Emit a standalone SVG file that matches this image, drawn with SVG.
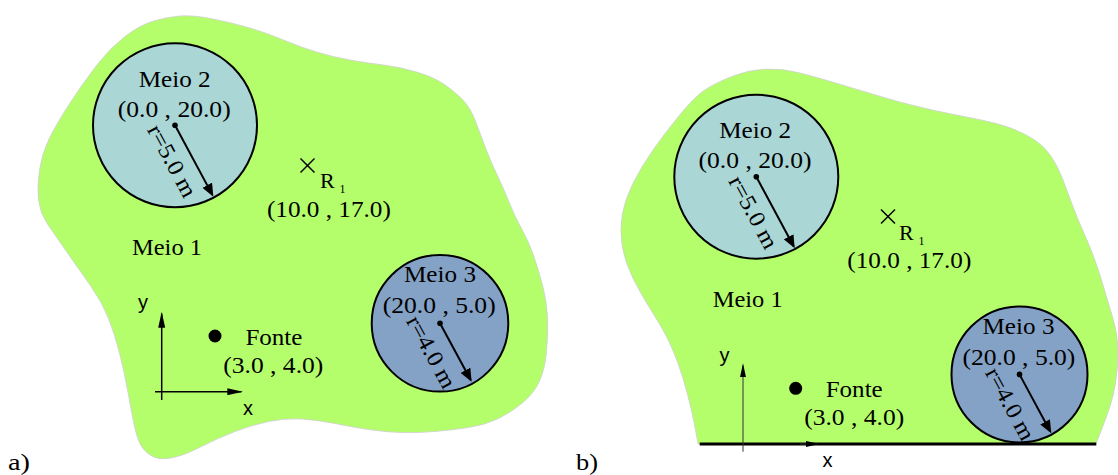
<svg xmlns="http://www.w3.org/2000/svg" width="1118" height="475" viewBox="0 0 1118 475">
<style>
.blob{fill:#b5fe6b;stroke:#cfcfcf;stroke-width:0.8}
.m2{fill:#aad6d5;stroke:#000;stroke-width:2}
.m3{fill:#84a2c5;stroke:#000;stroke-width:2}
.t{font-family:"Liberation Serif","Times New Roman",serif;font-size:23px;fill:#000}
.r{font-family:"Liberation Serif","Times New Roman",serif;font-size:22px;fill:#000}
.s{font-family:"Liberation Sans",Arial,sans-serif;font-size:20px;fill:#000}
.sub{font-family:"Liberation Serif","Times New Roman",serif;font-size:12px;fill:#000}
.rad{stroke:#000;stroke-width:2;fill:none;marker-end:url(#ah)}
.ax{stroke:#000;stroke-width:1.5;fill:none;marker-end:url(#axh)}
.axb{stroke:#333;stroke-width:1;fill:none;marker-end:url(#axh2)}
.cross{stroke:#000;stroke-width:1.5}
</style>
<defs>
<marker id="ah" markerUnits="userSpaceOnUse" markerWidth="13" markerHeight="11" refX="11" refY="5.5" orient="auto"><path d="M0,0 L13,5.5 L0,11 z" fill="#000"/></marker>
<marker id="axh" markerUnits="userSpaceOnUse" markerWidth="16" markerHeight="7" refX="14" refY="3.5" orient="auto"><path d="M0,0 L16,3.5 L0,7 z" fill="#000"/></marker>
<marker id="axh2" markerUnits="userSpaceOnUse" markerWidth="14" markerHeight="6" refX="12" refY="3" orient="auto"><path d="M0,0 L14,3 L0,6 z" fill="#000"/></marker>
</defs>

<g id="panel-a">
<path id="meio1-a" class="blob" d="M96.5,65.5 Q110,48 125,36.5 Q140,25 153.5,21 Q167,17 180,16 Q193,15 213,19 Q233,23 250,28 Q267,33 283.5,40 Q300,47 316.5,52 Q333,57 350,60 Q367,63 383.5,65 Q400,67 416.5,72 Q433,77 443,83.5 Q453,90 461.5,98.5 Q470,107 475,120 Q480,133 485,146.5 Q490,160 496.5,173.5 Q503,187 509,202 Q515,217 521.5,228.5 Q528,240 533,254 Q538,268 542.5,285 Q547,302 547.5,318.5 Q548,335 546.5,351.5 Q545,368 540,380 Q535,392 523.5,402 Q512,412 498.5,418.5 Q485,425 468.5,427.5 Q452,430 435,431.5 Q418,433 401.5,432.5 Q385,432 368.5,429.5 Q352,427 335,423.5 Q318,420 301.5,419 Q285,418 268.5,421.5 Q252,425 235,431.5 Q218,438 201.5,446.5 Q185,455 173.5,457.5 Q162,460 155,457.5 Q148,455 143,448.5 Q138,442 135,428.5 Q132,415 128.5,395 Q125,375 120,355 Q115,335 108.5,318.5 Q102,302 90,285 Q78,268 66.5,251.5 Q55,235 47.5,224 Q40,213 38.5,200 Q37,187 39.5,170 Q42,153 49.5,138 Q57,123 70,103 Q83,83 96.5,65.5 Z"/>
<text class="t" x="167" y="255" text-anchor="middle" textLength="70" lengthAdjust="spacingAndGlyphs">Meio 1</text>
</g>

<g id="meio2-a">
<circle class="m2" cx="175" cy="125.3" r="82"/>
<circle cx="175" cy="125.3" r="2.8" fill="#000"/>
<text class="t" x="174.7" y="87.3" text-anchor="middle" textLength="72" lengthAdjust="spacingAndGlyphs">Meio 2</text>
<text class="t" x="174.2" y="117" text-anchor="middle" textLength="113" lengthAdjust="spacingAndGlyphs">(0.0 , 20.0)</text>
<text class="t" transform="translate(165.4,164.5) rotate(61.8)" text-anchor="middle" textLength="79" lengthAdjust="spacingAndGlyphs">r=5.0 m</text>
</g>

<g id="meio3-a">
<circle class="m3" cx="440" cy="323.3" r="68.3"/>
<circle cx="440" cy="323.3" r="2.8" fill="#000"/>
<text class="t" x="440" y="281.7" text-anchor="middle" textLength="72" lengthAdjust="spacingAndGlyphs">Meio 3</text>
<text class="t" x="439.2" y="312.7" text-anchor="middle" textLength="113" lengthAdjust="spacingAndGlyphs">(20.0 , 5.0)</text>
<text class="t" transform="translate(424.7,355.6) rotate(61.5)" text-anchor="middle" textLength="79" lengthAdjust="spacingAndGlyphs">r=4.0 m</text>
</g>

<g id="r1-a">
<line class="cross" x1="300.5" y1="158.5" x2="314.5" y2="172.5"/>
<line class="cross" x1="314.5" y1="158.5" x2="300.5" y2="172.5"/>
<text class="r" x="320" y="188.3">R</text>
<text class="sub" x="339.5" y="193.3">1</text>
<text class="t" x="328.9" y="217.3" text-anchor="middle" textLength="124" lengthAdjust="spacingAndGlyphs">(10.0 , 17.0)</text>
</g>

<g id="fonte-a">
<circle cx="215" cy="336" r="6.5" fill="#000"/>
<text class="t" x="273.9" y="345" text-anchor="middle" textLength="57" lengthAdjust="spacingAndGlyphs">Fonte</text>
<text class="t" x="273.3" y="373.3" text-anchor="middle" textLength="100" lengthAdjust="spacingAndGlyphs">(3.0 , 4.0)</text>
</g>

<g id="axes-a">
<text class="s" x="138" y="309">y</text>
<text class="s" x="243" y="415">x</text>
</g>

<text id="label-a" class="t" x="8" y="470" textLength="22" lengthAdjust="spacingAndGlyphs">a)</text>

<g id="panel-b">
<path id="meio1-b" class="blob" d="M1096,444 L1100.35,432.85 Q1104.7,421.7 1108.85,409.85 Q1113,398 1115.5,383 Q1118,368 1118,351.5 Q1118,335 1113,318.5 Q1108,302 1103,285 Q1098,268 1093,255 Q1088,242 1083,231 Q1078,220 1073,206.65 Q1068,193.3 1063,180 Q1058,166.7 1051.35,156.7 Q1044.7,146.7 1034.7,140 Q1024.7,133.3 1011.35,128.3 Q998,123.3 981.35,120 Q964.7,116.7 948,113.35 Q931.3,110 914.65,105.85 Q898,101.7 881.35,96.7 Q864.7,91.7 839.7,84.2 Q814.7,76.7 798,72.5 Q781.3,68.3 764.65,69.15 Q748,70 731.35,76.65 Q714.7,83.3 704.7,90 Q694.7,96.7 679.7,115 Q664.7,133.3 653,150 Q641.3,166.7 633,183.35 Q624.7,200 622.2,215 Q619.7,230 622.2,245.85 Q624.7,261.7 633,278.35 Q641.3,295 653,313.35 Q664.7,331.7 671.35,346.7 Q678,361.7 683,378.35 Q688,395 691.35,410 Q694.7,425 696.35,434.5 L698,444 Z"/>
<text class="t" x="747.7" y="306.7" text-anchor="middle" textLength="70" lengthAdjust="spacingAndGlyphs">Meio 1</text>
</g>

<g id="meio2-b">
<circle class="m2" cx="756.3" cy="176.7" r="82"/>
<circle cx="756.3" cy="176.7" r="2.8" fill="#000"/>
<text class="t" x="755.2" y="138.3" text-anchor="middle" textLength="72" lengthAdjust="spacingAndGlyphs">Meio 2</text>
<text class="t" x="755" y="168.3" text-anchor="middle" textLength="113" lengthAdjust="spacingAndGlyphs">(0.0 , 20.0)</text>
<text class="t" transform="translate(746.7,215.9) rotate(61.8)" text-anchor="middle" textLength="79" lengthAdjust="spacingAndGlyphs">r=5.0 m</text>
</g>

<g id="meio3-b">
<circle class="m3" cx="1019.5" cy="374.4" r="68"/>
<circle cx="1019.5" cy="374.4" r="2.8" fill="#000"/>
<text class="t" x="1018.5" y="334" text-anchor="middle" textLength="72" lengthAdjust="spacingAndGlyphs">Meio 3</text>
<text class="t" x="1018.9" y="365" text-anchor="middle" textLength="113" lengthAdjust="spacingAndGlyphs">(20.0 , 5.0)</text>
<text class="t" transform="translate(1003.5,407.6) rotate(61.6)" text-anchor="middle" textLength="79" lengthAdjust="spacingAndGlyphs">r=4.0 m</text>
</g>

<g id="r1-b">
<line class="cross" x1="881" y1="209.5" x2="895" y2="223.5"/>
<line class="cross" x1="895" y1="209.5" x2="881" y2="223.5"/>
<text class="r" x="899" y="240">R</text>
<text class="sub" x="918.5" y="245">1</text>
<text class="t" x="909.3" y="268.3" text-anchor="middle" textLength="124" lengthAdjust="spacingAndGlyphs">(10.0 , 17.0)</text>
</g>

<g id="fonte-b">
<circle cx="795.7" cy="388.3" r="6.5" fill="#000"/>
<text class="t" x="854.2" y="396.7" text-anchor="middle" textLength="57" lengthAdjust="spacingAndGlyphs">Fonte</text>
<text class="t" x="854.2" y="425" text-anchor="middle" textLength="100" lengthAdjust="spacingAndGlyphs">(3.0 , 4.0)</text>
</g>

<g id="axes-b">
<line id="ground-b" x1="699.7" y1="444" x2="1096.3" y2="444" stroke="#000" stroke-width="3"/>
<text class="s" x="719.5" y="362">y</text>
<text class="s" x="822.5" y="466.7">x</text>
</g>

<text id="label-b" class="t" x="576" y="470" textLength="22" lengthAdjust="spacingAndGlyphs">b)</text>

<g id="connectors">
<line class="rad" x1="175" y1="125.3" x2="212.4" y2="194.9"/>
<line class="rad" x1="440" y1="323.3" x2="470.7" y2="379.9"/>
<line class="rad" x1="756.3" y1="176.7" x2="793.8" y2="246.5"/>
<line class="rad" x1="1019.5" y1="374.4" x2="1050.3" y2="431.5"/>
<line class="ax" x1="161.7" y1="400" x2="161.7" y2="313.7"/>
<line class="ax" x1="155" y1="391.7" x2="241.3" y2="391.7"/>
<line class="axb" x1="743" y1="451.7" x2="743" y2="365.3"/>
<line class="axb" x1="800" y1="444" x2="817.7" y2="444" stroke="#000"/>
</g>
</svg>
